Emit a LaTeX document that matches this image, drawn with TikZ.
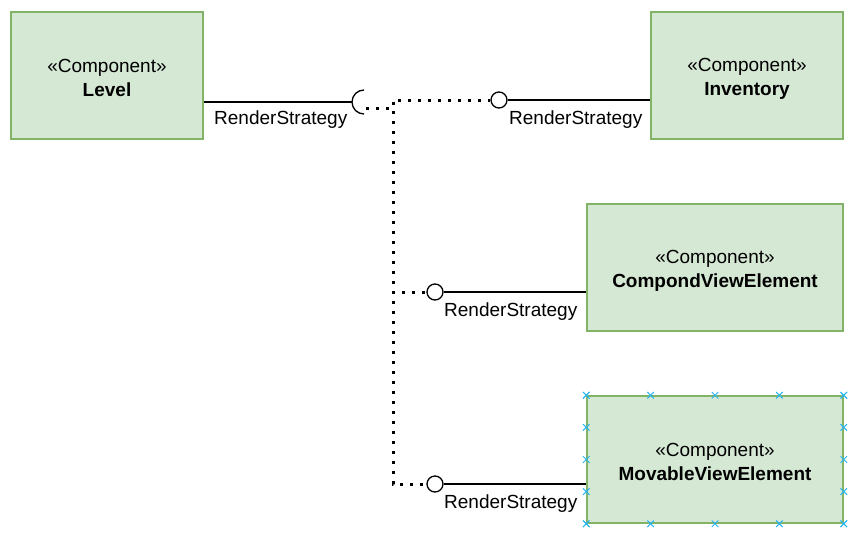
\documentclass[tikz,border=0pt]{standalone}
\usepackage{fontspec}
\setmainfont{Liberation Sans}
\usetikzlibrary{positioning,calc,shapes.misc}
\definecolor{compfill}{RGB}{213,232,212}
\definecolor{compline}{RGB}{130,179,102}
\definecolor{handleblue}{RGB}{41,182,242}
\newcommand{\comptext}[1]{\rule{0pt}{19pt}«Component»\\\textbf{#1}}
\tikzstyle{component}=[draw=compline,fill=compfill,line width=1.5pt,minimum height=127pt,minimum width=192pt,align=center,font=\fontsize{19}{24}\selectfont]
\tikzstyle{wide component}=[component,minimum width=256pt]
\tikzstyle{lolli}=[draw,circle,fill=white,line width=1.3pt,minimum size=16pt,inner sep=0pt]
\tikzstyle{socket}=[circle,minimum size=24pt,inner sep=0pt,outer sep=0pt]
\tikzstyle{lbl}=[inner sep=0pt,font=\fontsize{19}{24}\selectfont]
\tikzstyle{connect}=[line width=1.3pt,black]
\tikzstyle{dep}=[line width=3pt,dash pattern=on 3pt off 7pt,black]
\tikzstyle{handle}=[draw=handleblue,cross out,line width=1pt,minimum size=5.5pt,inner sep=0pt]

\begin{document}
\begin{tikzpicture}[x=1pt,y=-1pt,on grid]
\useasboundingbox (0,0) rectangle (856,536);

% Components
\node [component] (L) at (107,75.5) {\comptext{Level}};
\node [component] (I) [right=640pt of L] {\comptext{Inventory}};
\node [wide component] (C) [below left=192pt and 32pt of I] {\comptext{CompondViewElement}};
\node [wide component] (M) [below=192pt of C] {\comptext{MovableViewElement}};

% Interfaces
\node [socket] (sock) at (364,102) {};
\node [lolli] (li) at (499,100) {};
\node [lolli] (lc) at (435,292) {};
\node [lolli] (lm) at (435,484) {};
\coordinate (s) at (366,108);
\coordinate (bend) at (393,108);

\begin{scope}[dep]
    \draw (s) -- (bend) |- (li.west);
    \draw (s) -- (bend) |- (lc.west);
    \draw (s) -- (bend) |- (lm.west);
\end{scope}

\begin{scope}[connect]
    \draw (L.east |- sock) -- (sock.west);
    \draw (sock.south) arc[start angle=90,end angle=270,radius=12];
    \draw (li) -- (I.west |- li);
    \draw (lc) -- (C.west |- lc);
    \draw (lm) -- (M.west |- lm);
\end{scope}

% Labels
\node [lbl,anchor=base west] (rl) at (214,124) {RenderStrategy};
\node [lbl,anchor=base west] (ri) at (509,124) {RenderStrategy};
\node [lbl,anchor=base west] (rc) at (444,316) {RenderStrategy};
\node [lbl,anchor=base west] (rm) at (444,508) {RenderStrategy};

% selection marks
\foreach \f in {0,0.25,0.5,0.75,1} {
    \node [handle] at ($(M.north west)!\f!(M.north east)$) {};
    \node [handle] at ($(M.south west)!\f!(M.south east)$) {};
    \node [handle] at ($(M.north west)!\f!(M.south west)$) {};
    \node [handle] at ($(M.north east)!\f!(M.south east)$) {};
}

\end{tikzpicture}
\end{document}
